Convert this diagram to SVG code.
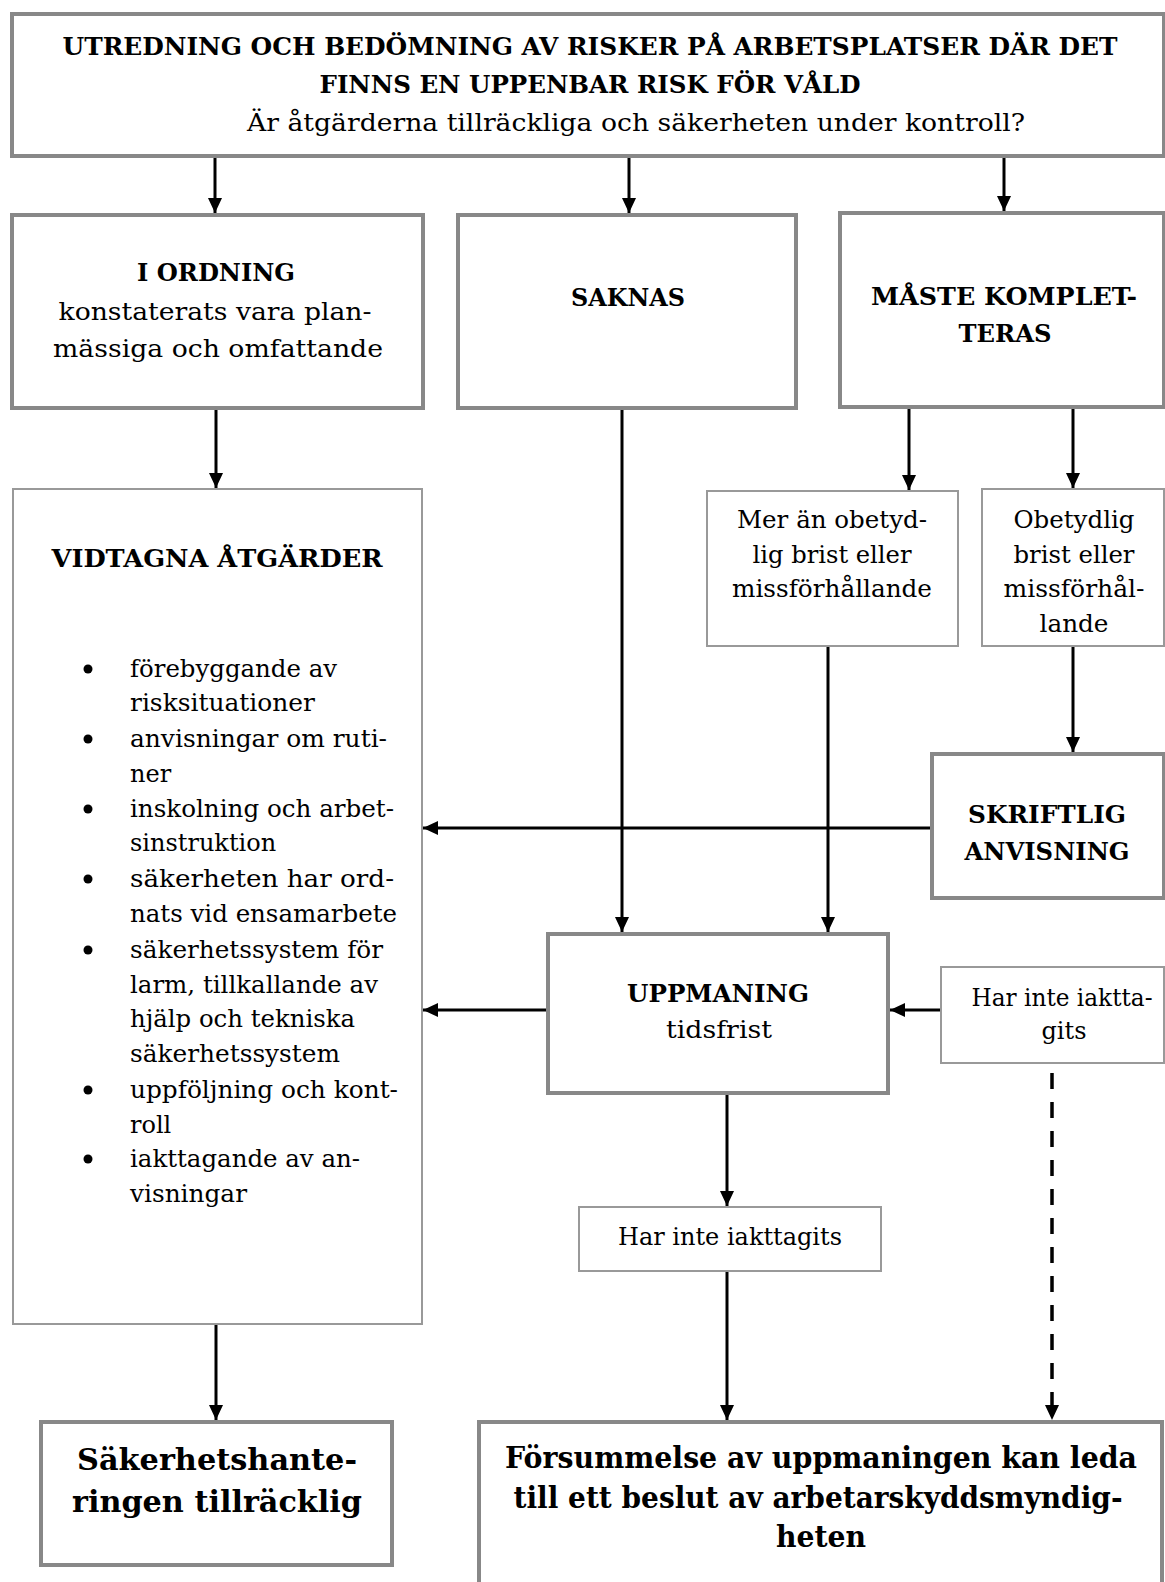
<svg xmlns="http://www.w3.org/2000/svg" width="1165" height="1582" viewBox="0 0 1165 1582">
<defs>
<marker id="ah" markerUnits="userSpaceOnUse" markerWidth="15" markerHeight="14" viewBox="0 0 15 14" refX="15" refY="7" orient="auto"><path d="M0,0 L15,7 L0,14 z" fill="#000"/></marker>
<style>
.thick{fill:#fff;stroke:#888;stroke-width:4}
.thin{fill:#fff;stroke:#999;stroke-width:2}
text{font-family:"DejaVu Serif","Liberation Serif",serif;fill:#000;text-anchor:middle}
.r{font-size:24px}
.b{font-size:24px;font-weight:bold}
.bb{font-size:29px;font-weight:bold}
.l{text-anchor:start}
.c{stroke:#000;stroke-width:3;fill:none;marker-end:url(#ah)}
.d{stroke:#000;stroke-width:3.5;fill:none;stroke-dasharray:16 13;marker-end:url(#ah)}
</style>
</defs>
<rect width="1165" height="1582" fill="#fff"/>

<g id="connectors">
<line class="c" x1="215" y1="158" x2="215" y2="213"/>
<line class="c" x1="629" y1="158" x2="629" y2="213"/>
<line class="c" x1="1004" y1="158" x2="1004" y2="211"/>
<line class="c" x1="216" y1="410" x2="216" y2="488"/>
<line class="c" x1="909" y1="409" x2="909" y2="490"/>
<line class="c" x1="1073" y1="409" x2="1073" y2="488"/>
<line class="c" x1="622" y1="410" x2="622" y2="932"/>
<line class="c" x1="828" y1="647" x2="828" y2="932"/>
<line class="c" x1="1073" y1="647" x2="1073" y2="752"/>
<line class="c" x1="930" y1="828" x2="423" y2="828"/>
<line class="c" x1="546" y1="1010" x2="423" y2="1010"/>
<line class="c" x1="940" y1="1010" x2="890" y2="1010"/>
<line class="c" x1="727" y1="1095" x2="727" y2="1206"/>
<line class="c" x1="727" y1="1272" x2="727" y2="1420"/>
<line class="d" x1="1052" y1="1073" x2="1052" y2="1420"/>
<line class="c" x1="216" y1="1325" x2="216" y2="1420"/>
</g>

<g id="top">
<rect class="thick" x="12" y="14" width="1152" height="142"/>
<text class="b" x="590" y="55" textLength="1055" lengthAdjust="spacingAndGlyphs">UTREDNING OCH BEDÖMNING AV RISKER PÅ ARBETSPLATSER DÄR DET</text>
<text class="b" x="590" y="93" textLength="541" lengthAdjust="spacingAndGlyphs">FINNS EN UPPENBAR RISK FÖR VÅLD</text>
<text class="r" x="636" y="131" textLength="778" lengthAdjust="spacingAndGlyphs">Är åtgärderna tillräckliga och säkerheten under kontroll?</text>
</g>

<g id="i-ordning">
<rect class="thick" x="12" y="215" width="411" height="193"/>
<text class="b" x="216" y="281" textLength="158" lengthAdjust="spacingAndGlyphs">I ORDNING</text>
<text class="r" x="215" y="320" textLength="313" lengthAdjust="spacingAndGlyphs">konstaterats vara plan-</text>
<text class="r" x="218" y="357" textLength="330" lengthAdjust="spacingAndGlyphs">mässiga och omfattande</text>
</g>

<g id="saknas">
<rect class="thick" x="458" y="215" width="338" height="193"/>
<text class="b" x="628" y="306" textLength="114" lengthAdjust="spacingAndGlyphs">SAKNAS</text>
</g>

<g id="maste">
<rect class="thick" x="840" y="213" width="324" height="194"/>
<text class="b" x="1004" y="305" textLength="266" lengthAdjust="spacingAndGlyphs">MÅSTE KOMPLET-</text>
<text class="b" x="1005" y="342" textLength="93" lengthAdjust="spacingAndGlyphs">TERAS</text>
</g>

<g id="vidtagna">
<rect class="thin" x="13" y="489" width="409" height="835"/>
<text class="b" x="217" y="567" textLength="331" lengthAdjust="spacingAndGlyphs">VIDTAGNA ÅTGÄRDER</text>
<g fill="#000">
<circle cx="88" cy="669" r="4.5"/>
<circle cx="88" cy="739" r="4.5"/>
<circle cx="88" cy="809" r="4.5"/>
<circle cx="88" cy="879" r="4.5"/>
<circle cx="88" cy="950" r="4.5"/>
<circle cx="88" cy="1090" r="4.5"/>
<circle cx="88" cy="1159" r="4.5"/>
</g>
<text class="r l" x="130" y="677" textLength="207" lengthAdjust="spacingAndGlyphs">förebyggande av</text>
<text class="r l" x="130" y="711" textLength="185" lengthAdjust="spacingAndGlyphs">risksituationer</text>
<text class="r l" x="130" y="747" textLength="257" lengthAdjust="spacingAndGlyphs">anvisningar om ruti-</text>
<text class="r l" x="130" y="782">ner</text>
<text class="r l" x="130" y="817" textLength="264" lengthAdjust="spacingAndGlyphs">inskolning och arbet-</text>
<text class="r l" x="130" y="851">sinstruktion</text>
<text class="r l" x="130" y="887" textLength="264" lengthAdjust="spacingAndGlyphs">säkerheten har ord-</text>
<text class="r l" x="130" y="922" textLength="267" lengthAdjust="spacingAndGlyphs">nats vid ensamarbete</text>
<text class="r l" x="130" y="958" textLength="253" lengthAdjust="spacingAndGlyphs">säkerhetssystem för</text>
<text class="r l" x="130" y="993" textLength="248" lengthAdjust="spacingAndGlyphs">larm, tillkallande av</text>
<text class="r l" x="130" y="1027" textLength="225" lengthAdjust="spacingAndGlyphs">hjälp och tekniska</text>
<text class="r l" x="130" y="1062" textLength="210" lengthAdjust="spacingAndGlyphs">säkerhetssystem</text>
<text class="r l" x="130" y="1098" textLength="268" lengthAdjust="spacingAndGlyphs">uppföljning och kont-</text>
<text class="r l" x="130" y="1133">roll</text>
<text class="r l" x="130" y="1167" textLength="230" lengthAdjust="spacingAndGlyphs">iakttagande av an-</text>
<text class="r l" x="130" y="1202" textLength="117" lengthAdjust="spacingAndGlyphs">visningar</text>
</g>

<g id="mer-an">
<rect class="thin" x="707" y="491" width="251" height="155"/>
<text class="r" x="832" y="528" textLength="190" lengthAdjust="spacingAndGlyphs">Mer än obetyd-</text>
<text class="r" x="832" y="563" textLength="159" lengthAdjust="spacingAndGlyphs">lig brist eller</text>
<text class="r" x="832" y="597" textLength="200" lengthAdjust="spacingAndGlyphs">missförhållande</text>
</g>

<g id="obetydlig">
<rect class="thin" x="982" y="489" width="182" height="157"/>
<text class="r" x="1074" y="528" textLength="121" lengthAdjust="spacingAndGlyphs">Obetydlig</text>
<text class="r" x="1074" y="563" textLength="121" lengthAdjust="spacingAndGlyphs">brist eller</text>
<text class="r" x="1074" y="597" textLength="141" lengthAdjust="spacingAndGlyphs">missförhål-</text>
<text class="r" x="1074" y="632" textLength="69" lengthAdjust="spacingAndGlyphs">lande</text>
</g>

<g id="skriftlig">
<rect class="thick" x="932" y="754" width="232" height="144"/>
<text class="b" x="1047" y="823" textLength="158" lengthAdjust="spacingAndGlyphs">SKRIFTLIG</text>
<text class="b" x="1047" y="860" textLength="165" lengthAdjust="spacingAndGlyphs">ANVISNING</text>
</g>

<g id="uppmaning">
<rect class="thick" x="548" y="934" width="340" height="159"/>
<text class="b" x="718" y="1002" textLength="182" lengthAdjust="spacingAndGlyphs">UPPMANING</text>
<text class="r" x="719" y="1038" textLength="106" lengthAdjust="spacingAndGlyphs">tidsfrist</text>
</g>

<g id="har-inte-1">
<rect class="thin" x="941" y="967" width="223" height="96"/>
<text class="r" x="1062" y="1006" textLength="181" lengthAdjust="spacingAndGlyphs">Har inte iaktta-</text>
<text class="r" x="1064" y="1039" textLength="45" lengthAdjust="spacingAndGlyphs">gits</text>
</g>

<g id="har-inte-2">
<rect class="thin" x="579" y="1207" width="302" height="64"/>
<text class="r" x="730" y="1245" textLength="224" lengthAdjust="spacingAndGlyphs">Har inte iakttagits</text>
</g>

<g id="sakerhet">
<rect class="thick" x="41" y="1422" width="351" height="143"/>
<text class="bb" x="217" y="1470" textLength="280" lengthAdjust="spacingAndGlyphs">Säkerhetshante-</text>
<text class="bb" x="217" y="1512" textLength="290" lengthAdjust="spacingAndGlyphs">ringen tillräcklig</text>
</g>

<g id="forsummelse">
<rect class="thick" x="479" y="1422" width="683" height="163"/>
<text class="bb" x="821" y="1468" textLength="632" lengthAdjust="spacingAndGlyphs">Försummelse av uppmaningen kan leda</text>
<text class="bb" x="818" y="1508" textLength="609" lengthAdjust="spacingAndGlyphs">till ett beslut av arbetarskyddsmyndig-</text>
<text class="bb" x="821" y="1547" textLength="90" lengthAdjust="spacingAndGlyphs">heten</text>
</g>
</svg>
